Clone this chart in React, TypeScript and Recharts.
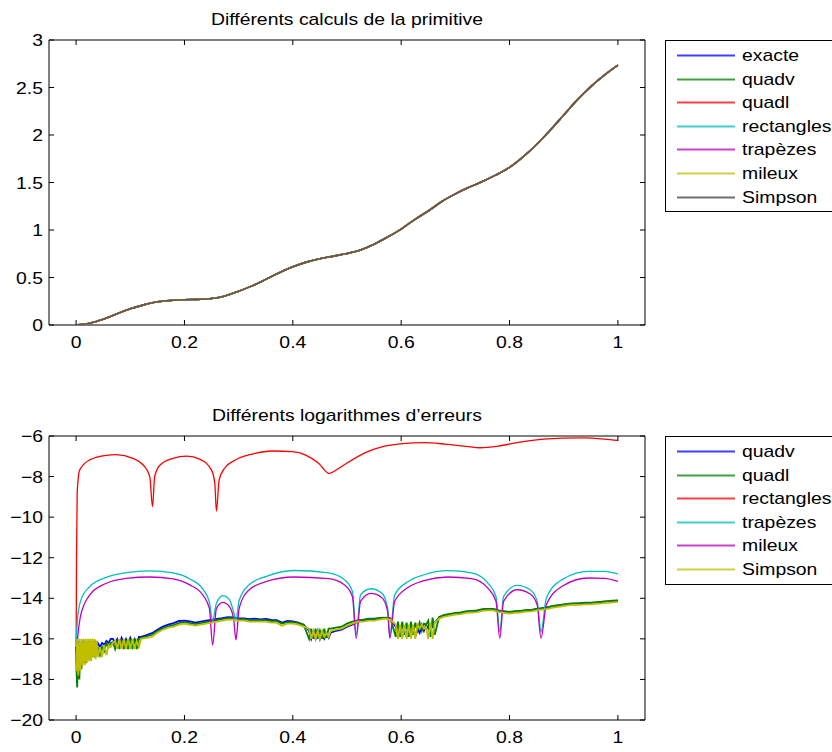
import React from 'react'
import { LineChart, Line, XAxis, YAxis, ReferenceArea } from 'recharts'

const FONT = '"Liberation Sans", Arial, Helvetica, sans-serif'
const SX = 1.14

// ---- top plot : primitive ----
const primX = [0, 0.025, 0.05, 0.075, 0.1, 0.125, 0.15, 0.175, 0.2, 0.225, 0.25, 0.275, 0.3, 0.325, 0.35, 0.375, 0.4, 0.425, 0.45, 0.475, 0.5, 0.525, 0.55, 0.575, 0.6, 0.625, 0.65, 0.675, 0.7, 0.725, 0.75, 0.775, 0.8, 0.825, 0.85, 0.875, 0.9, 0.925, 0.95, 0.975, 1]
const primY = [0, 0.018, 0.06, 0.116, 0.17, 0.212, 0.244, 0.259, 0.266, 0.27, 0.279, 0.306, 0.356, 0.412, 0.48, 0.55, 0.612, 0.662, 0.698, 0.725, 0.753, 0.79, 0.85, 0.926, 1.01, 1.11, 1.2, 1.3, 1.38, 1.45, 1.51, 1.58, 1.66, 1.77, 1.9, 2.05, 2.21, 2.37, 2.51, 2.63, 2.735]

const topNames = ['exacte', 'quadv', 'quadl', 'rectangles', 'trapèzes', 'mileux', 'Simpson']
const topColors = ['#0000ff', '#008000', '#ff0000', '#00bfbf', '#bf00bf', '#bfbf00', '#404040']
const topXTicks = [0, 0.2, 0.4, 0.6, 0.8, 1]
const topYTicks = [0, 0.5, 1, 1.5, 2, 2.5, 3]

// ---- bottom plot : log errors ----
const rectX = [0, 0.0008, 0.002, 0.0066, 0.025, 0.056, 0.074, 0.105, 0.124, 0.136, 0.141, 0.145, 0.155, 0.179, 0.204, 0.229, 0.25, 0.256, 0.259, 0.264, 0.274, 0.294, 0.325, 0.362, 0.399, 0.424, 0.448, 0.467, 0.485, 0.495, 0.534, 0.564, 0.603, 0.642, 0.681, 0.72, 0.745, 0.779, 0.819, 0.858, 0.897, 0.936, 0.975, 1]
const rectY = [-17.0, -12, -8.8, -7.68, -7.18, -6.95, -6.92, -7.1, -7.43, -8.0, -9.48, -8.0, -7.43, -7.1, -6.99, -7.15, -7.68, -8.33, -9.7, -8.17, -7.59, -7.18, -6.89, -6.74, -6.77, -6.94, -7.35, -7.84, -7.59, -7.42, -6.82, -6.54, -6.38, -6.33, -6.4, -6.51, -6.58, -6.5, -6.3, -6.17, -6.1, -6.09, -6.15, -6.22]

const trapX = [0, 0.003, 0.01, 0.025, 0.056, 0.093, 0.136, 0.179, 0.21, 0.234, 0.246, 0.252, 0.259, 0.271, 0.283, 0.291, 0.295, 0.301, 0.319, 0.35, 0.402, 0.466, 0.495, 0.51, 0.517, 0.525, 0.544, 0.564, 0.575, 0.579, 0.588, 0.613, 0.642, 0.686, 0.73, 0.76, 0.775, 0.782, 0.789, 0.814, 0.838, 0.851, 0.858, 0.868, 0.897, 0.946, 0.975, 1]
const trapY = [-16.2, -14.9, -14.0, -13.43, -12.97, -12.74, -12.65, -12.75, -13.05, -13.55, -14.2, -15.1, -14.25, -13.87, -14.07, -14.7, -15.1, -14.1, -13.34, -12.93, -12.63, -12.75, -13.08, -13.66, -15.8, -13.83, -13.53, -13.74, -14.48, -15.88, -13.83, -13.17, -12.84, -12.64, -12.75, -13.25, -13.91, -15.64, -13.91, -13.36, -13.58, -14.15, -15.64, -13.99, -13.08, -12.67, -12.67, -12.8]

const milX = [0, 0.003, 0.008, 0.015, 0.025, 0.056, 0.093, 0.136, 0.179, 0.21, 0.234, 0.246, 0.252, 0.259, 0.271, 0.283, 0.291, 0.295, 0.301, 0.319, 0.35, 0.402, 0.466, 0.495, 0.51, 0.517, 0.525, 0.544, 0.564, 0.575, 0.579, 0.588, 0.613, 0.642, 0.686, 0.73, 0.76, 0.775, 0.782, 0.789, 0.814, 0.838, 0.851, 0.858, 0.868, 0.897, 0.946, 0.975, 1]
const milY = [-17.1, -15.9, -14.9, -14.3, -13.84, -13.26, -13.02, -12.95, -13.04, -13.34, -13.84, -14.5, -16.3, -14.5, -14.2, -14.41, -15.07, -16.05, -14.5, -13.59, -13.18, -12.95, -13.03, -13.33, -13.91, -15.97, -14.15, -13.76, -13.96, -14.65, -15.97, -14.15, -13.46, -13.13, -12.95, -13.03, -13.5, -14.15, -15.97, -14.15, -13.58, -13.79, -14.32, -15.97, -14.32, -13.41, -13.0, -13.02, -13.17]

// quadv, quadl and Simpson share one abscissa grid
const noiseX = [
  0, 0.002, 0.004, 0.006, 0.008, 0.01, 0.012, 0.014, 0.016, 0.018, 0.02, 0.022, 0.024, 0.026, 0.028, 0.03, 0.032, 0.034, 0.036, 0.038, 0.04,
  0.044, 0.048, 0.052, 0.056, 0.06, 0.064, 0.068,
  0.072, 0.076, 0.08, 0.084, 0.088, 0.092, 0.096, 0.1, 0.104, 0.108, 0.112, 0.116,
  0.12, 0.13, 0.14, 0.15, 0.16, 0.17, 0.18, 0.19, 0.2, 0.21, 0.22, 0.23, 0.24, 0.25, 0.26, 0.27, 0.28, 0.29, 0.3, 0.31, 0.32, 0.33, 0.34, 0.35, 0.36, 0.37, 0.38, 0.39, 0.4, 0.41, 0.42,
  0.43, 0.434, 0.438, 0.442, 0.446, 0.45, 0.454, 0.458, 0.462, 0.466,
  0.47, 0.48, 0.49, 0.5, 0.51, 0.52, 0.53, 0.54, 0.55, 0.56, 0.57, 0.58,
  0.59, 0.594, 0.598, 0.602, 0.606, 0.61, 0.614, 0.618, 0.622, 0.626, 0.63, 0.634, 0.638, 0.642, 0.646, 0.65, 0.654, 0.658, 0.662,
  0.67, 0.68, 0.69, 0.7, 0.71, 0.72, 0.73, 0.74, 0.75, 0.76, 0.77, 0.78, 0.79, 0.8, 0.81, 0.82, 0.83, 0.84, 0.85, 0.86, 0.87, 0.88, 0.89, 0.9, 0.91, 0.92, 0.93, 0.94, 0.95, 0.96, 0.97, 0.98, 0.99, 1,
]
const quadvY = [
  -16.4, -17.4, -16.1, -17.0, -16.2, -16.9, -16.1, -16.8, -16.1, -16.7, -16.2, -16.6, -16.1, -16.6, -16.2, -16.5, -16.1, -16.5, -16.1, -16.4, -16.2,
  -16.4, -16.2, -16.3, -16.1, -16.2, -16.0, -16.0,
  -16.2, -16.0, -16.3, -15.95, -16.2, -16.0, -16.3, -15.95, -16.2, -16.0, -16.2, -15.9,
  -15.9, -15.82, -15.72, -15.55, -15.4, -15.3, -15.22, -15.12, -15.1, -15.14, -15.2, -15.15, -15.1, -15.06, -15.02, -14.98, -14.93, -14.94, -14.98, -14.99, -15.03, -15.0, -15.04, -15.02, -15.07, -15.08, -15.2, -15.12, -15.14, -15.2, -15.3,
  -15.6, -16.0, -15.7, -16.0, -15.6, -16.0, -15.7, -16.0, -15.8, -15.95,
  -15.7, -15.6, -15.55, -15.4, -15.3, -15.15, -15.1, -15.05, -15.05, -15.0, -14.97, -15.0,
  -15.4, -15.9, -15.4, -15.9, -15.4, -15.9, -15.4, -15.9, -15.4, -15.9, -15.5, -15.7, -15.3, -15.6, -15.3, -15.5, -15.3, -15.4, -15.2,
  -14.95, -14.85, -14.8, -14.74, -14.72, -14.66, -14.64, -14.62, -14.56, -14.54, -14.54, -14.62, -14.66, -14.69, -14.66, -14.64, -14.6, -14.59, -14.54, -14.5, -14.46, -14.4, -14.36, -14.32, -14.28, -14.27, -14.26, -14.24, -14.24, -14.21, -14.19, -14.16, -14.14, -14.12,
]
const quadlY = [
  -17.0, -18.4, -16.2, -18.0, -16.5, -17.5, -16.3, -17.2, -16.2, -17.2, -16.3, -17.0, -16.2, -17.0, -16.4, -16.9, -16.3, -16.9, -16.3, -16.8, -16.4,
  -16.8, -16.4, -16.6, -16.2, -16.4, -16.2, -16.15,
  -16.5, -16.1, -16.5, -16.05, -16.5, -16.1, -16.5, -16.0, -16.5, -16.1, -16.5, -16.0,
  -15.95, -15.88, -15.8, -15.62, -15.48, -15.38, -15.32, -15.22, -15.18, -15.22, -15.27, -15.22, -15.18, -15.13, -15.08, -15.03, -14.98, -14.98, -15.03, -15.03, -15.08, -15.08, -15.08, -15.08, -15.12, -15.13, -15.25, -15.18, -15.18, -15.22, -15.3,
  -16.0, -15.5, -16.0, -15.5, -16.0, -15.6, -16.0, -15.5, -15.95, -15.5,
  -15.5, -15.45, -15.4, -15.25, -15.15, -15.08, -15.05, -15.0, -15.0, -14.97, -14.95, -14.98,
  -15.9, -15.15, -15.9, -15.15, -15.8, -15.2, -15.9, -15.15, -15.8, -15.2, -15.6, -15.2, -15.6, -15.25, -15.3, -15.1, -15.9, -14.95, -15.8,
  -14.92, -14.82, -14.77, -14.72, -14.7, -14.64, -14.62, -14.6, -14.54, -14.52, -14.52, -14.6, -14.64, -14.67, -14.64, -14.62, -14.58, -14.57, -14.52, -14.48, -14.44, -14.38, -14.34, -14.3, -14.26, -14.25, -14.24, -14.22, -14.22, -14.19, -14.17, -14.14, -14.12, -14.1,
]
const simpsonY = [
  -17.6, -16.0, -17.8, -16.0, -17.6, -16.0, -17.3, -16.0, -17.3, -16.0, -17.2, -16.0, -17.1, -16.0, -17.1, -16.0, -16.9, -16.0, -17.0, -16.1, -16.9,
  -16.4, -16.9, -16.3, -16.8, -16.3, -16.4, -16.2,
  -16.1, -16.5, -16.0, -16.5, -16.0, -16.5, -16.0, -16.5, -16.0, -16.5, -16.1, -16.4,
  -16.0, -15.95, -15.9, -15.7, -15.55, -15.45, -15.4, -15.3, -15.25, -15.3, -15.35, -15.3, -15.25, -15.2, -15.15, -15.1, -15.05, -15.05, -15.1, -15.1, -15.15, -15.15, -15.15, -15.15, -15.2, -15.2, -15.35, -15.25, -15.25, -15.3, -15.4,
  -15.5, -16.0, -15.6, -16.0, -15.6, -16.0, -15.6, -15.9, -15.7, -15.9,
  -15.6, -15.55, -15.5, -15.35, -15.25, -15.15, -15.15, -15.1, -15.1, -15.05, -15.0, -15.05,
  -15.3, -16.0, -15.3, -16.0, -15.3, -16.0, -15.3, -16.0, -15.3, -16.0, -15.3, -15.5, -15.3, -15.5, -15.4, -16.0, -15.2, -16.0, -15.2,
  -15.0, -14.9, -14.85, -14.8, -14.78, -14.72, -14.7, -14.68, -14.62, -14.6, -14.6, -14.68, -14.72, -14.75, -14.72, -14.7, -14.66, -14.65, -14.6, -14.56, -14.52, -14.46, -14.42, -14.38, -14.34, -14.33, -14.32, -14.3, -14.3, -14.27, -14.25, -14.22, -14.2, -14.18,
]

const botNames = ['quadv', 'quadl', 'rectangles', 'trapèzes', 'mileux', 'Simpson']
const botColors = ['#0000ff', '#008000', '#ff0000', '#00bfbf', '#bf00bf', '#bfbf00']
const botYTicks = [-20, -18, -16, -14, -12, -10, -8, -6]

const rows = (xs: number[], ys: number[]) => xs.map((x, i) => ({ x, y: ys[i] }))

const fmt = (v: number) => String(v).replace('-', '\u2212')

const XTick = (p: any, top: number) => (
  <g>
    <line x1={p.x} y1={p.y} x2={p.x} y2={p.y - 5} stroke="#000" />
    <line x1={p.x} y1={top} x2={p.x} y2={top + 5} stroke="#000" />
    <g transform={`translate(${p.x},${p.y + 23})`}>
      <text transform={`scale(${SX},1)`} textAnchor="middle" fontSize={17} fontFamily={FONT} fill="#000">
        {fmt(p.payload.value)}
      </text>
    </g>
  </g>
)

const YTick = (p: any, right: number) => (
  <g>
    <line x1={p.x} y1={p.y} x2={p.x + 5} y2={p.y} stroke="#000" />
    <line x1={right} y1={p.y} x2={right - 5} y2={p.y} stroke="#000" />
    <g transform={`translate(${p.x - 6},${p.y + 6})`}>
      <text transform={`scale(${SX},1)`} textAnchor="end" fontSize={17} fontFamily={FONT} fill="#000">
        {fmt(p.payload.value)}
      </text>
    </g>
  </g>
)

const Legend = ({ names, colors, top, height }: any) => (
  <div style={{ position: 'absolute', left: 665, top, width: 180, height, border: '1px solid #000', background: '#fff', boxSizing: 'border-box' }}>
    {names.map((n: string, i: number) => (
      <div key={n} style={{ position: 'absolute', left: 0, top: 3 + i * 23.6, height: 24, width: 180 }}>
        <svg width={70} height={24} style={{ position: 'absolute', left: 0, top: 0 }}>
          <line x1={11} y1={11.5} x2={69} y2={11.5} stroke={colors[i]} strokeWidth={2} strokeOpacity={0.75} />
        </svg>
        <div style={{ position: 'absolute', left: 76, top: 2, fontFamily: FONT, fontSize: 17, lineHeight: '20px', transform: `scale(${SX},1)`, transformOrigin: 'left center', whiteSpace: 'nowrap' }}>{n}</div>
      </div>
    ))}
  </div>
)

const Title = ({ text, top }: any) => (
  <div style={{ position: 'absolute', left: 0, width: 694, top, textAlign: 'center', fontFamily: FONT, fontSize: 17, lineHeight: '17px', transform: `scale(${SX},1)`, transformOrigin: '347px 0', whiteSpace: 'nowrap' }}>
    {text}
  </div>
)

const App = () => {
  const topData = rows(primX, primY)
  const botSeries = [
    rows(noiseX, quadvY),
    rows(noiseX, quadlY),
    rows(rectX, rectY),
    rows(trapX, trapY),
    rows(milX, milY),
    rows(noiseX, simpsonY),
  ]
  const smooth = [false, false, true, true, true, false]

  return (
    <div style={{ position: 'absolute', left: 0, top: 0, width: 832, height: 752, overflow: 'hidden', background: '#fff' }}>
      <Title text="Différents calculs de la primitive" top={11} />
      <Title text="Différents logarithmes d’erreurs" top={407} />

      <div style={{ position: 'absolute', left: 0, top: 0 }}>
        <LineChart width={832} height={370} margin={{ top: 40, right: 187, bottom: 0, left: 0 }}>
          <XAxis type="number" dataKey="x" domain={[-0.05, 1.05]} ticks={topXTicks} interval={0} allowDataOverflow
            axisLine={false} tickLine={false} tickSize={0} tickMargin={0} height={45} tick={(p: any) => XTick(p, 40)} />
          <YAxis type="number" domain={[0, 3]} ticks={topYTicks} interval={0} allowDataOverflow
            axisLine={false} tickLine={false} tickSize={0} tickMargin={0} width={49} tick={(p: any) => YTick(p, 645)} />
          <ReferenceArea x1={-0.05} x2={1.05} y1={0} y2={3} fill="none" stroke="#000" strokeOpacity={1} fillOpacity={0} />
          {topNames.map((n, i) => (
            <Line key={n} data={topData} dataKey="y" name={n} type="monotone" stroke={i === 6 ? '#665846' : topColors[i]}
              strokeWidth={1.6} dot={false} isAnimationActive={false} />
          ))}
        </LineChart>
      </div>

      <div style={{ position: 'absolute', left: 0, top: 396 }}>
        <LineChart width={832} height={356} margin={{ top: 40, right: 187, bottom: 0, left: 0 }}>
          <XAxis type="number" dataKey="x" domain={[-0.05, 1.05]} ticks={topXTicks} interval={0} allowDataOverflow
            axisLine={false} tickLine={false} tickSize={0} tickMargin={0} height={32} tick={(p: any) => XTick(p, 40)} />
          <YAxis type="number" domain={[-20, -6]} ticks={botYTicks} interval={0} allowDataOverflow
            axisLine={false} tickLine={false} tickSize={0} tickMargin={0} width={49} tick={(p: any) => YTick(p, 645)} />
          <ReferenceArea x1={-0.05} x2={1.05} y1={-20} y2={-6} fill="none" stroke="#000" strokeOpacity={1} fillOpacity={0} />
          {botNames.map((n, i) => (
            <Line key={n} data={botSeries[i]} dataKey="y" name={n} type={smooth[i] ? 'monotone' : 'linear'} stroke={botColors[i]}
              strokeWidth={smooth[i] ? 1.3 : 1.8} dot={false} isAnimationActive={false} />
          ))}
        </LineChart>
      </div>

      <Legend names={topNames} colors={topColors} top={40} height={172} />
      <Legend names={botNames} colors={botColors} top={436} height={149} />
    </div>
  )
}

export default App
